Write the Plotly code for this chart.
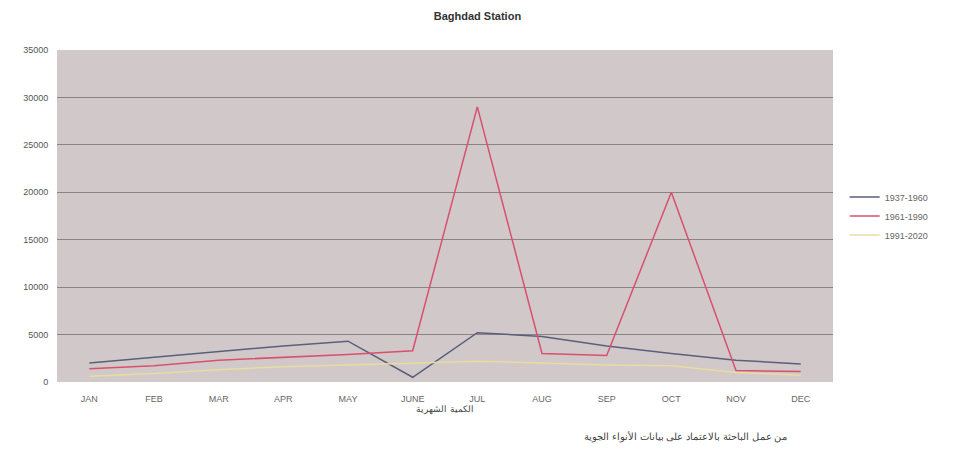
import plotly.graph_objects as go

months = ["JAN", "FEB", "MAR", "APR", "MAY", "JUNE", "JUL", "AUG", "SEP", "OCT", "NOV", "DEC"]

series_names = ["1937-1960", "1961-1990", "1991-2020"]
s1 = [2000, 2600, 3200, 3800, 4300, 500, 5200, 4800, 3800, 3000, 2300, 1900]
s2 = [1400, 1700, 2300, 2600, 2900, 3300, 29000, 3000, 2800, 20000, 1200, 1100]
s3 = [600, 900, 1300, 1600, 1800, 2000, 2200, 2000, 1800, 1700, 1000, 700]

y_ticks = [0, 5000, 10000, 15000, 20000, 25000, 30000, 35000]

colors = ["#5a5f7a", "#d9506e", "#e8dca0"]

fig = go.Figure()
for name, vals, col in zip(series_names, [s1, s2, s3], colors):
    fig.add_trace(go.Scatter(x=months, y=vals, mode="lines", name=name,
                             line=dict(color=col, width=1.5)))

# la page ajoute ~8px de marge autour de la figure
fig.update_layout(
    width=958, height=450,
    margin=dict(l=49, r=133, t=42, b=76),
    paper_bgcolor="white",
    plot_bgcolor="#d1c8c9",
    font=dict(family="Liberation Sans, Arial", size=9, color="#555"),
    title=dict(text="<b>Baghdad Station</b>", x=0.49, xanchor="center", y=0.99, yanchor="top",
               font=dict(size=11, color="#333")),
    legend=dict(x=1.015, y=0.5, xanchor="left", yanchor="middle",
                font=dict(size=9, color="#666"), bgcolor="rgba(0,0,0,0)"),
    xaxis=dict(showgrid=False, showline=False, ticks="outside", ticklen=8,
               tickcolor="rgba(0,0,0,0)", range=[-0.5, 11.5],
               tickfont=dict(size=9, color="#666"),
               title=dict(text="الكمية الشهرية", font=dict(size=9, color="#444"), standoff=2)),
    yaxis=dict(range=[0, 35000], tickvals=y_ticks, ticktext=[str(v) for v in y_ticks],
               showgrid=True, gridcolor="#8a8383", ticks="outside", ticklen=6,
               tickcolor="rgba(0,0,0,0)",
               gridwidth=1, zeroline=False, tickfont=dict(size=9, color="#555")),
    annotations=[dict(text="من عمل الباحثة بالاعتماد على بيانات الأنواء الجوية",
                      xref="paper", yref="paper", x=0.81, y=-0.19, xanchor="center",
                      showarrow=False, font=dict(size=10, color="#444"))],
)

fig.write_html("out.html")
